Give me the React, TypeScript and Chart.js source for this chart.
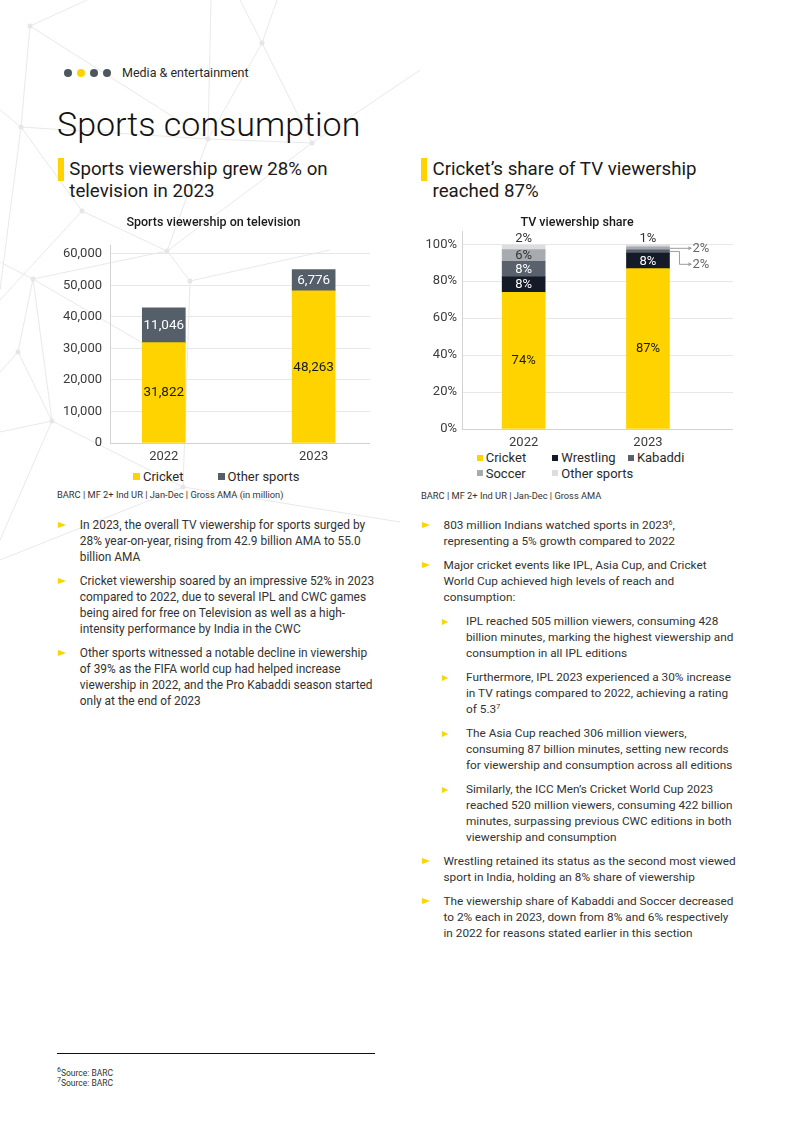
import React, { useEffect, useRef } from 'react';
import { Chart, registerables } from 'chart.js';

Chart.register(...registerables);

const FONT = "Roboto, 'Noto Sans', sans-serif";

// ---- Chart 1 data: Sports viewership on television (Gross AMA, million)
const years = ['2022', '2023'];
const cricketViews = [31822, 48263];
const otherViews = [11046, 6776];
const viewTicks = [0, 10000, 20000, 30000, 40000, 50000, 60000];
const viewSeries = ['Cricket', 'Other sports'];

// ---- Chart 2 data: TV viewership share (%)
const shareSeries = ['Cricket', 'Wrestling', 'Kabaddi', 'Soccer', 'Other sports'];
const cricketShare = [74.0, 86.8];
const wrestlingShare = [8.4, 8.4];
const kabaddiShare = [8.4, 1.8];
const soccerShare = [6.3, 1.6];
const otherShare = [2.4, 1.2];
const shareTicks = [0, 20, 40, 60, 80, 100];

const YELLOW = '#ffd300';
const SLATE = '#555f6a';
const NAVY = '#141a27';
const KAB = '#59626c';
const SOC = '#a7aaaf';
const OTH = '#dddde0';
const GRID = '#e7e7e7';
const AXIS = '#d2d2d2';
const TICK = '#3c3c3c';

const segmentLabels = {
  id: 'segmentLabels',
  afterDatasetsDraw(chart: any, _args: any, opts: any) {
    if (!opts || !opts.enabled) return;
    const ctx = chart.ctx;
    const n = chart.data.datasets.length;
    const callouts: Record<number, { count: number; firstY: number }> = {};
    ctx.save();
    ctx.font = `${opts.fontSize}px ${FONT}`;
    ctx.textBaseline = 'middle';
    const fmt = (v: number) =>
      opts.kind === 'percent' ? `${Math.round(v)}%` : Math.round(v).toLocaleString('en-US');
    for (let d = n - 1; d >= 0; d--) {
      const meta = chart.getDatasetMeta(d);
      meta.data.forEach((el: any, i: number) => {
        const pt = chart.data.datasets[d].data[i];
        const v = typeof pt === 'number' ? pt : pt.y;
        const text = fmt(v);
        const p = el.getProps(['x', 'y', 'base', 'width'], true);
        const top = Math.min(p.y, p.base);
        const bottom = Math.max(p.y, p.base);
        const h = bottom - top;
        if (opts.topAbove && d === n - 1) {
          ctx.fillStyle = opts.aboveColor;
          ctx.textAlign = 'center';
          ctx.fillText(text, p.x, top - opts.aboveGap);
        } else if (h >= opts.minInside) {
          ctx.fillStyle = opts.colors[d];
          ctx.textAlign = 'center';
          ctx.fillText(text, p.x, (top + bottom) / 2 + 0.5);
        } else {
          const mid = (top + bottom) / 2;
          const right = p.x + p.width / 2;
          const c = callouts[i] || (callouts[i] = { count: 0, firstY: mid });
          const ly = c.firstY + c.count * opts.calloutStep;
          ctx.strokeStyle = opts.calloutLine;
          ctx.lineWidth = 1;
          ctx.beginPath();
          ctx.moveTo(right, mid);
          if (c.count === 0) {
            ctx.lineTo(right + opts.calloutLen, mid);
          } else {
            ctx.lineTo(right + opts.calloutElbow, mid);
            ctx.lineTo(right + opts.calloutElbow, ly);
            ctx.lineTo(right + opts.calloutLen, ly);
          }
          ctx.stroke();
          ctx.fillStyle = opts.calloutLine;
          ctx.beginPath();
          ctx.moveTo(right + opts.calloutLen + 1.5, ly);
          ctx.lineTo(right + opts.calloutLen - 2, ly - 2);
          ctx.lineTo(right + opts.calloutLen - 2, ly + 2);
          ctx.closePath();
          ctx.fill();
          ctx.fillStyle = opts.calloutColor;
          ctx.textAlign = 'left';
          ctx.fillText(text, right + opts.calloutLen + 2, ly);
          c.count++;
        }
      });
    }
    ctx.restore();
  },
};

function ChartBox({ build, style }: { build: (c: HTMLCanvasElement) => Chart; style: React.CSSProperties }) {
  const ref = useRef<HTMLCanvasElement | null>(null);
  useEffect(() => {
    if (!ref.current) return;
    const chart = build(ref.current);
    return () => chart.destroy();
  }, []);
  return (
    <div style={{ position: 'absolute', ...style }}>
      <canvas ref={ref} />
    </div>
  );
}

const tickFont = { family: FONT, size: 13 };

function buildViews(canvas: HTMLCanvasElement) {
  return new Chart(canvas, {
    type: 'bar',
    plugins: [segmentLabels as any],
    data: {
      datasets: [
        { label: viewSeries[0], data: cricketViews.map((y, x) => ({ x, y })), backgroundColor: YELLOW, barThickness: 43 },
        { label: viewSeries[1], data: otherViews.map((y, x) => ({ x, y })), backgroundColor: SLATE, barThickness: 43 },
      ],
    } as any,
    options: {
      responsive: true,
      maintainAspectRatio: false,
      animation: false,
      layout: { padding: 0 },
      plugins: {
        legend: { display: false },
        tooltip: { enabled: false },
        title: {
          display: true,
          text: 'Sports viewership on television',
          color: '#1a1a1a',
          font: { family: FONT, size: 12.5, weight: 500 },
          padding: { top: 5.8, bottom: 14.2 },
        },
        segmentLabels: {
          enabled: true,
          kind: 'number',
          fontSize: 13.5,
          colors: ['#1a1a1a', '#ffffff'],
          minInside: 10,
          topAbove: false,
        },
      } as any,
      scales: {
        x: {
          type: 'linear',
          stacked: true,
          min: -0.359,
          max: 1.376,
          offset: false,
          grid: { display: false, drawTicks: false },
          border: { display: true, color: AXIS },
          afterBuildTicks: (s: any) => {
            s.ticks = years.map((_, i) => ({ value: i }));
          },
          afterFit: (s: any) => {
            s.height = 24;
          },
          ticks: {
            color: TICK,
            font: tickFont,
            padding: 6,
            callback: (v: any) => years[v] ?? '',
          },
        },
        y: {
          stacked: true,
          min: 0,
          max: 62800,
          grid: { color: GRID, drawTicks: false },
          border: { display: true, color: AXIS },
          afterBuildTicks: (s: any) => {
            s.ticks = viewTicks.map((v) => ({ value: v }));
          },
          afterFit: (s: any) => {
            s.width = 53;
          },
          ticks: {
            color: TICK,
            font: tickFont,
            padding: 8,
            callback: (v: any) => Number(v).toLocaleString('en-US'),
          },
        },
      } as any,
    },
  });
}

function buildShare(canvas: HTMLCanvasElement) {
  const series = [cricketShare, wrestlingShare, kabaddiShare, soccerShare, otherShare];
  const colors = [YELLOW, NAVY, KAB, SOC, OTH];
  return new Chart(canvas, {
    type: 'bar',
    plugins: [segmentLabels as any],
    data: {
      datasets: series.map((arr, k) => ({
        label: shareSeries[k],
        data: arr.map((y, x) => ({ x, y })),
        backgroundColor: colors[k],
        barThickness: 43,
      })),
    } as any,
    options: {
      responsive: true,
      maintainAspectRatio: false,
      animation: false,
      layout: { padding: 0 },
      plugins: {
        legend: { display: false },
        tooltip: { enabled: false },
        title: {
          display: true,
          text: 'TV viewership share',
          color: '#1a1a1a',
          font: { family: FONT, size: 12.5, weight: 500 },
          padding: { top: 5.2, bottom: 1.5 },
        },
        segmentLabels: {
          enabled: true,
          kind: 'percent',
          fontSize: 13,
          colors: ['#1a1a1a', '#ffffff', '#ffffff', '#333333', '#333333'],
          minInside: 10,
          topAbove: true,
          aboveGap: 6,
          aboveColor: '#333333',
          calloutLine: '#9a9da2',
          calloutColor: '#666666',
          calloutLen: 21,
          calloutElbow: 10,
          calloutStep: 16,
        },
      } as any,
      scales: {
        x: {
          type: 'linear',
          stacked: true,
          min: -0.496,
          max: 1.684,
          offset: false,
          grid: { display: false, drawTicks: false },
          border: { display: true, color: AXIS },
          afterBuildTicks: (s: any) => {
            s.ticks = years.map((_, i) => ({ value: i }));
          },
          afterFit: (s: any) => {
            s.height = 19;
          },
          ticks: {
            color: TICK,
            font: tickFont,
            padding: 6,
            callback: (v: any) => years[v] ?? '',
          },
        },
        y: {
          stacked: true,
          min: 0,
          max: 106.8,
          grid: { color: GRID, drawTicks: false },
          border: { display: true, color: AXIS },
          afterBuildTicks: (s: any) => {
            s.ticks = shareTicks.map((v) => ({ value: v }));
          },
          afterFit: (s: any) => {
            s.width = 41;
          },
          ticks: {
            color: TICK,
            font: tickFont,
            padding: 5,
            callback: (v: any) => `${v}%`,
          },
        },
      } as any,
    },
  });
}

// ---- decorative background network
const nodes: [number, number][] = [
  [30, 26], [262, 43], [208, 139], [21, 127], [312, 143], [167, 251], [82, 211],
  [33, 279], [190, 281], [18, 352], [52, 421], [183, 487],
];
const edges: [number, number][] = [
  [0, 2], [0, 3], [1, 2], [1, 4], [2, 3], [2, 4], [4, 5], [3, 6], [6, 5], [2, 5],
  [5, 7], [5, 8], [7, 9], [7, 10], [8, 11], [10, 11], [9, 10],
];
const freeEdges: [number, number, number, number][] = [
  [30, 26, 87, 0], [262, 43, 240, 0], [262, 43, 277, 0], [208, 139, 211, 0],
  [21, 127, 0, 110], [82, 211, 0, 300], [21, 127, 0, 290], [33, 279, 0, 262],
  [18, 352, 0, 372], [52, 421, 0, 432], [52, 421, 0, 540], [183, 487, 0, 560],
  [183, 487, 400, 522], [312, 143, 420, 70], [190, 281, 330, 250], [33, 279, 146, 345],
];

function Background() {
  return (
    <svg width={800} height={1131} style={{ position: 'absolute', left: 0, top: 0 }}>
      {edges.map(([a, b], k) => (
        <line key={'e' + k} x1={nodes[a][0]} y1={nodes[a][1]} x2={nodes[b][0]} y2={nodes[b][1]} stroke="#e9e9e9" strokeWidth={1} />
      ))}
      {freeEdges.map(([x1, y1, x2, y2], k) => (
        <line key={'f' + k} x1={x1} y1={y1} x2={x2} y2={y2} stroke="#e9e9e9" strokeWidth={1} />
      ))}
      {nodes.map(([x, y], k) => (
        <circle key={'n' + k} cx={x} cy={y} r={2.5} fill="#e6e6e6" />
      ))}
    </svg>
  );
}

const Sup = ({ children }: { children: React.ReactNode }) => (
  <span style={{ fontSize: 7, position: 'relative', top: -4, lineHeight: 0 }}>{children}</span>
);

function Bullet({ lines, sub, first }: { lines: React.ReactNode[]; sub?: boolean; first?: boolean }) {
  return (
    <div style={{ position: 'relative', paddingLeft: sub ? 44 : 21.5, marginTop: first ? 0 : 8 }}>
      <span
        style={{
          position: 'absolute',
          left: sub ? 20.3 : 0,
          top: sub ? 6 : 5,
          width: 0,
          height: 0,
          borderTop: `${sub ? 3 : 3.5}px solid transparent`,
          borderBottom: `${sub ? 3 : 3.5}px solid transparent`,
          borderLeft: `${sub ? 6 : 8}px solid ${YELLOW}`,
        }}
      />
      {lines.map((l, k) => (
        <div key={k} style={{ whiteSpace: 'nowrap' }}>{l}</div>
      ))}
    </div>
  );
}

function LegendBox({ color, size }: { color: string; size: number }) {
  return <span style={{ display: 'inline-block', width: size, height: size, background: color, marginRight: 3, verticalAlign: 'middle', position: 'relative', top: -1 }} />;
}

export default function App() {
  const dotColors = ['#4d5661', YELLOW, '#4d5661', '#4d5661'];
  const shareColors = [YELLOW, NAVY, KAB, SOC, OTH];
  return (
    <div
      style={{
        position: 'absolute',
        left: 0,
        top: 0,
        width: 800,
        height: 1131,
        overflow: 'hidden',
        background: '#ffffff',
        fontFamily: FONT,
        color: '#333333',
      }}
    >
      <Background />

      {dotColors.map((c, k) => (
        <span key={k} style={{ position: 'absolute', left: 64 + k * 13.1, top: 69.3, width: 8, height: 8, borderRadius: 4, background: c }} />
      ))}
      <div style={{ position: 'absolute', left: 122, top: 65, fontSize: 12.5, lineHeight: '16px', color: '#2a2a2a' }}>Media &amp; entertainment</div>

      <div style={{ position: 'absolute', left: 57, top: 103.5, fontSize: 34, lineHeight: '40px', fontWeight: 300, color: '#111111', whiteSpace: 'nowrap' }}>
        Sports consumption
      </div>

      {/* Left headline */}
      <span style={{ position: 'absolute', left: 58, top: 157.5, width: 5.5, height: 23.5, background: YELLOW }} />
      <div style={{ position: 'absolute', left: 69.3, top: 159, fontSize: 18.7, lineHeight: '21.7px', color: '#1a1a1a', whiteSpace: 'nowrap' }}>
        <div>Sports viewership grew 28% on</div>
        <div>television in 2023</div>
      </div>

      {/* Right headline */}
      <span style={{ position: 'absolute', left: 421, top: 157.5, width: 5.5, height: 23.5, background: YELLOW }} />
      <div style={{ position: 'absolute', left: 432.5, top: 159, fontSize: 18.7, lineHeight: '21.7px', color: '#1a1a1a', whiteSpace: 'nowrap' }}>
        <div>Cricket’s share of TV viewership</div>
        <div>reached 87%</div>
      </div>

      {/* Chart 1 */}
      <ChartBox build={buildViews} style={{ left: 57, top: 210, width: 313, height: 257 }} />
      <div style={{ position: 'absolute', left: 133, top: 469, fontSize: 13, lineHeight: '16px', color: '#2a2a2a', display: 'flex', whiteSpace: 'nowrap' }}>
        <div style={{ width: 84.5 }}><LegendBox color={YELLOW} size={7} />{viewSeries[0]}</div>
        <div><LegendBox color={SLATE} size={7} />{viewSeries[1]}</div>
      </div>
      <div style={{ position: 'absolute', left: 57, top: 489, fontSize: 9.3, lineHeight: '12px', color: '#333333', whiteSpace: 'nowrap' }}>
        BARC | MF 2+ Ind UR | Jan-Dec | Gross AMA (in million)
      </div>

      {/* Chart 2 */}
      <ChartBox build={buildShare} style={{ left: 421, top: 210, width: 312, height: 238 }} />
      <div style={{ position: 'absolute', left: 476.7, top: 450, fontSize: 13, lineHeight: '15.6px', color: '#2a2a2a', display: 'grid', gridTemplateColumns: '75.6px 75.6px 75.6px', whiteSpace: 'nowrap' }}>
        {shareSeries.map((s, k) => (
          <div key={s}><LegendBox color={shareColors[k]} size={6} />{s}</div>
        ))}
      </div>
      <div style={{ position: 'absolute', left: 421, top: 490, fontSize: 9.3, lineHeight: '12px', color: '#333333', whiteSpace: 'nowrap' }}>
        BARC | MF 2+ Ind UR | Jan-Dec | Gross AMA
      </div>

      {/* Left bullets */}
      <div style={{ position: 'absolute', left: 58.3, top: 516.5, width: 330, fontSize: 11.9, lineHeight: '16px', color: '#333333' }}>
        <Bullet first lines={[
          'In 2023, the overall TV viewership for sports surged by',
          '28% year-on-year, rising from 42.9 billion AMA to 55.0',
          'billion AMA',
        ]} />
        <Bullet lines={[
          'Cricket viewership soared by an impressive 52% in 2023',
          'compared to 2022, due to several IPL and CWC games',
          'being aired for free on Television as well as a high-',
          'intensity performance by India in the CWC',
        ]} />
        <Bullet lines={[
          'Other sports witnessed a notable decline in viewership',
          'of 39% as the FIFA world cup had helped increase',
          'viewership in 2022, and the Pro Kabaddi season started',
          'only at the end of 2023',
        ]} />
      </div>

      {/* Right bullets */}
      <div style={{ position: 'absolute', left: 422, top: 516.5, width: 340, fontSize: 11.8, lineHeight: '16px', color: '#333333' }}>
        <Bullet first lines={[
          <>803 million Indians watched sports in 2023<Sup>6</Sup>,</>,
          'representing a 5% growth compared to 2022',
        ]} />
        <Bullet lines={[
          'Major cricket events like IPL, Asia Cup, and Cricket',
          'World Cup achieved high levels of reach and',
          'consumption:',
        ]} />
        <Bullet sub lines={[
          'IPL reached 505 million viewers, consuming 428',
          'billion minutes, marking the highest viewership and',
          'consumption in all IPL editions',
        ]} />
        <Bullet sub lines={[
          'Furthermore, IPL 2023 experienced a 30% increase',
          'in TV ratings compared to 2022, achieving a rating',
          <>of 5.3<Sup>7</Sup></>,
        ]} />
        <Bullet sub lines={[
          'The Asia Cup reached 306 million viewers,',
          'consuming 87 billion minutes, setting new records',
          'for viewership and consumption across all editions',
        ]} />
        <Bullet sub lines={[
          'Similarly, the ICC Men’s Cricket World Cup 2023',
          'reached 520 million viewers, consuming 422 billion',
          'minutes, surpassing previous CWC editions in both',
          'viewership and consumption',
        ]} />
        <Bullet lines={[
          'Wrestling retained its status as the second most viewed',
          'sport in India, holding an 8% share of viewership',
        ]} />
        <Bullet lines={[
          'The viewership share of Kabaddi and Soccer decreased',
          'to 2% each in 2023, down from 8% and 6% respectively',
          'in 2022 for reasons stated earlier in this section',
        ]} />
      </div>

      {/* Footnotes */}
      <div style={{ position: 'absolute', left: 57, top: 1053, width: 318, height: 1.4, background: '#111111' }} />
      <div style={{ position: 'absolute', left: 57, top: 1067.5, fontSize: 8.5, lineHeight: '10px', color: '#333333', whiteSpace: 'nowrap' }}>
        <div><Sup>6</Sup>Source: BARC</div>
        <div><Sup>7</Sup>Source: BARC</div>
      </div>
    </div>
  );
}
